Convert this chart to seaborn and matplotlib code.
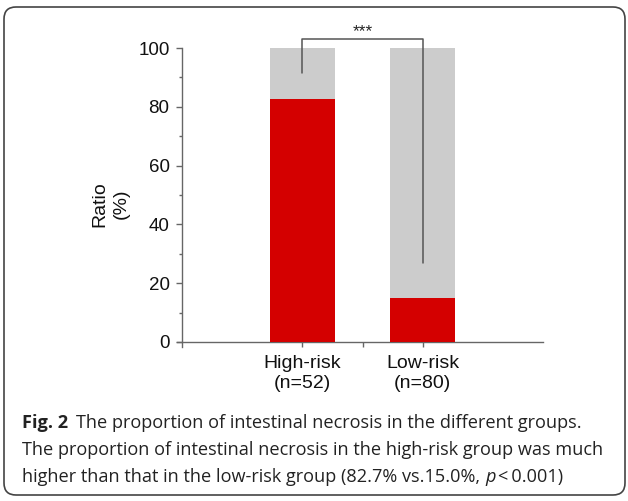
import matplotlib
matplotlib.use('Agg')
import matplotlib.pyplot as plt
from matplotlib.patches import FancyBboxPatch
from matplotlib.transforms import IdentityTransform
from matplotlib.ticker import MultipleLocator, FixedLocator
import seaborn as sns

# ── Data ─────────────────────────────────────────────────────────────────────
groups = ['High-risk\n(n=52)', 'Low-risk\n(n=80)']
necrosis_pct = [82.7, 15.0]
total_pct = [100, 100]

# significance bracket (y in data units)
bracket_top = 103
bracket_left_end = 91.5
bracket_right_end = 27
sig_label = '***'

RED = '#d40000'
GREY = '#cccccc'
AXIS = '#666666'
TXT = '#111111'

sns.set_theme(style='white')
plt.rcParams['font.family'] = ['Liberation Sans', 'DejaVu Sans']

fig = plt.figure(figsize=(6.28, 5.01), dpi=100)
W, H = 628, 501
ax = fig.add_axes([182 / W, (H - 342) / H, (543 - 182) / W, (342 - 48) / H])

sns.barplot(x=groups, y=total_pct, color=GREY, width=0.54, saturation=1,
            linewidth=0, ax=ax, zorder=2)
sns.barplot(x=groups, y=necrosis_pct, color=RED, width=0.54, saturation=1,
            linewidth=0, ax=ax, zorder=3)

ax.set_xlim(-1, 2)
ax.set_ylim(0, 100)
ax.yaxis.set_major_locator(MultipleLocator(20))
ax.yaxis.set_minor_locator(MultipleLocator(10))
ax.xaxis.set_minor_locator(FixedLocator([0.5]))

for side in ('top', 'right'):
    ax.spines[side].set_visible(False)
for side in ('left', 'bottom'):
    ax.spines[side].set_color(AXIS)
    ax.spines[side].set_linewidth(1.0)
ax.spines['left'].set_bounds(-1.7, 100)
ax.spines['bottom'].set_bounds(-1.04, 2)

ax.tick_params(axis='y', which='major', direction='out', length=4,
               width=1, color=AXIS, labelsize=13.5, labelcolor=TXT,
               pad=5, left=True)
ax.tick_params(axis='y', which='minor', direction='out', length=2.5,
               width=1, color=AXIS, left=True)
ax.tick_params(axis='x', which='both', direction='out', length=3.5,
               width=1, color=AXIS, labelsize=14, labelcolor=TXT,
               pad=6, bottom=True)

ax.set_xlabel('')
ax.set_ylabel('Ratio\n(%)', fontsize=14, color=TXT, linespacing=1.3)
ax.yaxis.set_label_coords(-0.145, 0.47)

# significance bracket
bk = dict(color='#555555', lw=1.1, clip_on=False, zorder=4)
ax.plot([0, 0, 1, 1], [bracket_left_end, bracket_top, bracket_top,
                       bracket_right_end], **bk)
ax.text(0.5, bracket_top + 1.2, sig_label, ha='center', va='baseline',
        fontsize=12.5, color='#222222', clip_on=False)

# caption
cap = dict(fontsize=13.1, color='#222222',
           family=['Open Sans', 'DejaVu Sans'])
fig_lbl = fig.text(22 / W, 1 - 428 / H, 'Fig. 2', fontweight='bold',
                   va='baseline', **cap)
ax.annotate('The proportion of intestinal necrosis in the different groups.',
            xy=(1, 0), xycoords=fig_lbl, xytext=(6, 0),
            textcoords='offset points', ha='left', va='bottom', **cap)
fig.text(22 / W, 1 - 455 / H,
         'The proportion of intestinal necrosis in the high-risk group was much',
         va='baseline', **cap)
l3 = fig.text(22 / W, 1 - 482 / H,
              'higher than that in the low-risk group (82.7% vs.15.0%,',
              va='baseline', **cap)
l3p = ax.annotate('p', xy=(1, 0), xycoords=l3, xytext=(3.5, 0),
                  textcoords='offset points', ha='left', va='bottom',
                  style='italic', **cap)
ax.annotate('<\u20090.001)', xy=(1, 0), xycoords=l3p, xytext=(1.5, 0),
            textcoords='offset points', ha='left', va='bottom', **cap)

# rounded frame
frame = FancyBboxPatch((4, 6), 621, 488,
                       boxstyle='round,pad=0,rounding_size=12',
                       transform=IdentityTransform(), fill=False,
                       edgecolor='#444444', linewidth=1.2)
fig.patches.append(frame)

fig.savefig('out.png', dpi=100)
